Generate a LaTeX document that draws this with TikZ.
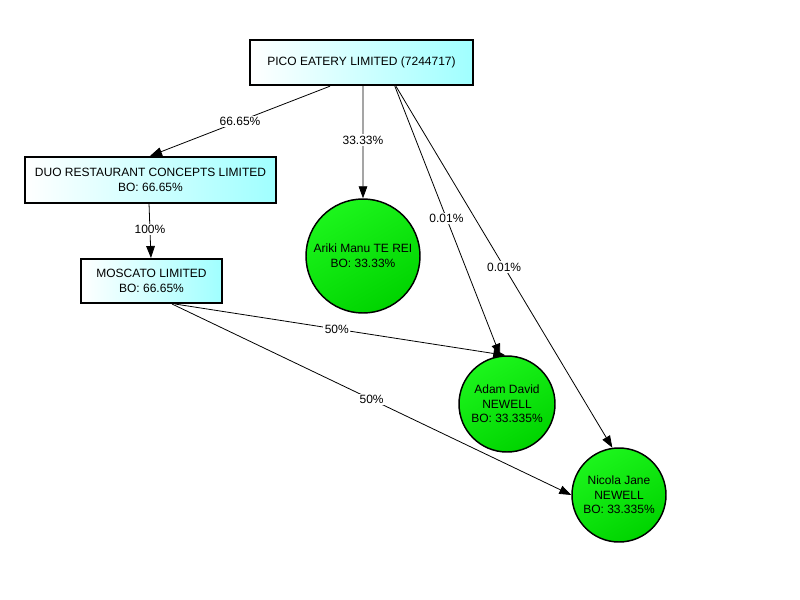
\documentclass[tikz,border=0pt]{standalone}
\usepackage{fontspec}
\setmainfont{Liberation Sans}
\usetikzlibrary{arrows.meta,shapes.geometric}
\definecolor{boxcyan}{RGB}{160,255,255}
\definecolor{ballgreen}{RGB}{28,245,28}
\definecolor{balldark}{RGB}{0,212,0}
\tikzset{
  company/.style={draw=black,line width=1.5pt,rectangle,left color=white,right color=boxcyan,
    align=center,font=\fontsize{9}{11}\selectfont,inner sep=2pt},
  person/.style={draw=black,line width=1.1pt,circle,top color=ballgreen,bottom color=balldark,
    shading angle=30,align=center,font=\fontsize{9}{11}\selectfont,inner sep=0pt},
  link/.style={draw=black,line width=0.6pt,-{Triangle[length=9pt,width=6.5pt]}},
  pct/.style={fill=white,inner sep=1pt,font=\fontsize{9}{11}\selectfont}
}
\begin{document}
\begin{tikzpicture}[x=0.75pt,y=-0.75pt]
\useasboundingbox (0,0) rectangle (800,600);
\node[company,minimum width=167pt,minimum height=34pt] (pico) at (361.5,62.5) {PICO EATERY LIMITED (7244717)};
\node[company,minimum width=188pt,minimum height=34.5pt] (duo) at (150.5,180) {DUO RESTAURANT CONCEPTS LIMITED\\BO: 66.65\%};
\node[company,minimum width=106pt,minimum height=33pt] (mos) at (151.5,281) {MOSCATO LIMITED\\BO: 66.65\%};
\node[person,minimum size=85.5pt] (ariki) at (363,256) {Ariki Manu TE REI\\BO: 33.33\%};
\node[person,minimum size=72pt] (adam) at (507,404) {Adam David\\NEWELL\\BO: 33.335\%};
\node[person,minimum size=70.5pt] (nicola) at (619,495) {Nicola Jane\\NEWELL\\BO: 33.335\%};

\draw[link] ([xshift=-23.6pt]pico.south) -- ([xshift=-0.4pt]duo.north) node[pct,pos=0.5] {66.65\%};
\draw[link] ([xshift=1.1pt]pico.south) -- (ariki.90) node[pct,pos=0.48] {33.33\%};
\draw[link] ([xshift=25pt]pico.south) -- (adam.98) node[pct,pos=0.49] {0.01\%};
\draw[link] ([xshift=25.8pt]pico.south) -- (nicola.98) node[pct,pos=0.5] {0.01\%};
\draw[link] ([xshift=-1.1pt]duo.south) -- ([xshift=-0.4pt]mos.north) node[pct,pos=0.47] {100\%};
\draw[link] ([xshift=17.6pt]mos.south) -- (adam.92) node[pct,pos=0.49] {50\%};
\draw[link] ([xshift=15.4pt]mos.south) -- (nicola.180) node[pct,pos=0.5] {50\%};
\end{tikzpicture}
\end{document}
